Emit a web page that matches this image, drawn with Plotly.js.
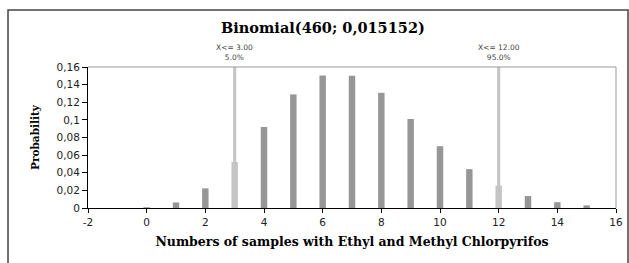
<!DOCTYPE html>
<html><head><meta charset="utf-8">
<script src="https://cdn.plot.ly/plotly-3.0.1.min.js"></script>
<style>html,body{margin:0;padding:0;background:#fff;}#chart{width:629px;height:263px;}</style>
</head><body><div id="chart"></div>
<script>
const successes = [0,1,2,3,4,5,6,7,8,9,10,11,12,13,14,15];
const probability = [0.0009,0.0063,0.0223,0.0523,0.0919,0.1289,0.1504,0.1500,0.1307,0.1010,0.0701,0.0441,0.0254,0.0135,0.0066,0.0030];
const cutoffs = [3, 12];
const cutoffLabels = ["X<= 3.00<br>5.0%", "X<= 12.00<br>95.0%"];
const yTicks = [0,0.02,0.04,0.06,0.08,0.1,0.12,0.14,0.16];
const xTicks = [-2,0,2,4,6,8,10,12,14,16];

const barColors = successes.map(v => cutoffs.includes(v) ? '#c4c4c4' : '#969696');
const traces = [{
  type:'bar', x:successes, y:probability, width:0.22,
  marker:{color:barColors, line:{width:0}}, hoverinfo:'x+y'
}];
cutoffs.forEach(c => traces.push({
  type:'scatter', mode:'lines', x:[c,c], y:[0,0.16],
  line:{color:'#c4c4c4', width:3}, hoverinfo:'skip'
}));

const annotations = cutoffs.map((c,i) => ({
  x:c, xref:'x', y:1.0, yref:'paper', yanchor:'bottom', yshift:3,
  text:cutoffLabels[i], showarrow:false,
  font:{family:'DejaVu Sans, Arial', size:7.5, color:'#444'}
}));

const serif = 'DejaVu Serif, Liberation Serif, serif';
const sans = 'DejaVu Sans, Arial, sans-serif';
const layout = {
  width:629, height:263,
  margin:{l:88, r:13, t:67, b:55, pad:0},
  paper_bgcolor:'#fff', plot_bgcolor:'#fff',
  showlegend:false,
  separators:',.',
  title:{text:'<b>Binomial(460; 0,015152)</b>', x:0.445, xref:'paper', y:0.895, yref:'container', yanchor:'middle',
    font:{family:serif, size:14.5, color:'#000'}},
  xaxis:{range:[-2,16], tickvals:xTicks, ticktext:xTicks.map(String), showgrid:false, zeroline:false,
    showline:true, linecolor:'#000', linewidth:1, ticks:'outside', ticklen:4, tickcolor:'#000',
    tickfont:{family:sans, size:10.5, color:'#222'},
    title:{text:'<b>Numbers of samples with Ethyl and Methyl Chlorpyrifos</b>', standoff:10,
      font:{family:serif, size:12.5, color:'#000'}}},
  yaxis:{range:[0,0.16], tickvals:yTicks, ticktext:yTicks.map(v=>String(v).replace('.',',')), showgrid:false, zeroline:false,
    showline:true, linecolor:'#000', linewidth:1, ticks:'outside', ticklen:5, tickcolor:'#000',
    tickfont:{family:sans, size:10.5, color:'#222'},
    title:{text:'<b>Probability</b>', standoff:14,
      font:{family:serif, size:10.5, color:'#000'}}},
  annotations:annotations,
  shapes:[
    {type:'line', xref:'paper', yref:'paper', x0:0, x1:1, y0:1, y1:1, line:{color:'#999', width:1}},
    {type:'line', xref:'paper', yref:'paper', x0:1, x1:1, y0:0, y1:1, line:{color:'#999', width:1}},
    {type:'rect', xref:'paper', yref:'paper', x0:-0.1515, x1:1.0227, y0:-0.5, y1:1.404, line:{color:'#444', width:1.5}, layer:'below'}
  ]
};
Plotly.newPlot('chart', traces, layout, {staticPlot:true, displayModeBar:false});
</script></body></html>
